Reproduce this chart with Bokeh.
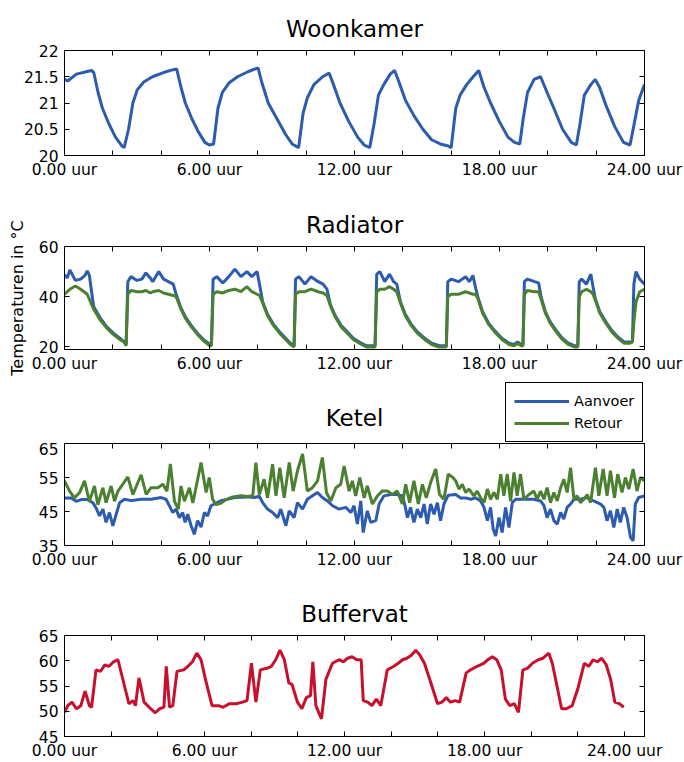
from bokeh.plotting import figure
from bokeh.models import Range1d, FixedTicker, LinearAxis, Legend, LegendItem, Label
from bokeh.layouts import column
from bokeh.embed import file_html
from bokeh.resources import INLINE

FONT = "DejaVu Sans"
BLUE = "#2c5bb0"
GREEN = "#4b8030"
RED = "#c8102e"

# x axis (hours)
hour_ticks = [0, 6, 12, 18, 24]
hour_minor = [2, 4, 8, 10, 14, 16, 20, 22]
hour_labels = ["0.00 uur", "6.00 uur", "12.00 uur", "18.00 uur", "24.00 uur"]

# Woonkamer
woon_t = [0, 0.13, 0.49, 0.94, 1.12, 1.21, 1.39, 1.57, 1.84, 2.11,
          2.38, 2.47, 2.65, 2.83, 3.01, 3.28, 3.64, 4.10, 4.46, 4.64,
          4.82, 5.00, 5.27, 5.54, 5.81, 5.99, 6.17, 6.35, 6.53, 6.80,
          7.16, 7.61, 8.01, 8.16, 8.43, 8.79, 9.15, 9.42, 9.69, 9.87,
          10.05, 10.32, 10.68, 10.95, 11.13, 11.40, 11.76, 12.13, 12.40, 12.63,
          12.81, 12.99, 13.21, 13.48, 13.66, 13.84, 14.11, 14.47, 14.83, 15.19,
          15.55, 15.88, 16.00, 16.19, 16.37, 16.64, 16.91, 17.14, 17.36, 17.63,
          17.99, 18.35, 18.62, 18.84, 18.98, 19.16, 19.43, 19.70, 19.97, 20.25,
          20.61, 20.97, 21.18, 21.33, 21.51, 21.78, 21.96, 22.14, 22.41, 22.77,
          23.13, 23.40, 23.53, 23.76, 24.00]
woon_temp = [21.45, 21.42, 21.55, 21.6, 21.62, 21.58, 21.2, 20.9, 20.6, 20.35,
             20.18, 20.15, 20.5, 21.0, 21.25, 21.4, 21.5, 21.58, 21.63, 21.65,
             21.3, 21.0, 20.7, 20.45, 20.25, 20.2, 20.22, 20.9, 21.2, 21.38,
             21.5, 21.6, 21.67, 21.4, 21.0, 20.7, 20.4, 20.22, 20.15, 20.8,
             21.1, 21.35, 21.5, 21.57, 21.35, 21.0, 20.65, 20.35, 20.2, 20.15,
             20.6, 21.15, 21.35, 21.55, 21.62, 21.4, 21.05, 20.75, 20.5, 20.3,
             20.22, 20.18, 20.15, 20.9, 21.15, 21.35, 21.5, 21.62, 21.3, 21.0,
             20.65, 20.35, 20.25, 20.22, 20.7, 21.2, 21.45, 21.5, 21.2, 20.9,
             20.5, 20.25, 20.2, 20.6, 21.15, 21.35, 21.45, 21.3, 20.95, 20.55,
             20.25, 20.2, 20.5, 21.05, 21.35]
woon_yticks = [20, 20.5, 21, 21.5, 22]
woon_ylabels = ["20", "20.5", "21", "21.5", "22"]

# Radiator
rad_t = [0, 0.12, 0.22, 0.45, 0.67, 0.85, 0.94, 1.03, 1.12, 1.21, 1.48, 1.75, 2.02, 2.29, 2.47,
         2.55, 2.62, 2.75, 3.0, 3.2, 3.37, 3.55, 3.65, 3.9, 4.1, 4.3, 4.5, 4.62, 4.8, 5.0, 5.25, 5.5, 5.75, 6.02,
         6.08, 6.15, 6.3, 6.55, 6.8, 7.05, 7.3, 7.55, 7.75, 7.97, 8.07, 8.2, 8.4, 8.65, 8.9, 9.15, 9.35, 9.5,
         9.56, 9.7, 9.95, 10.2, 10.5, 10.7, 10.86, 11.0, 11.2, 11.45, 11.7, 11.95, 12.2, 12.5, 12.85,
         12.92, 13.05, 13.25, 13.45, 13.62, 13.75, 13.9, 14.1, 14.35, 14.6, 14.9, 15.2, 15.5, 15.8,
         15.86, 16.0, 16.3, 16.6, 16.75, 16.9, 17.0, 17.1, 17.3, 17.55, 17.8, 18.1, 18.4, 18.6, 18.75, 18.9, 18.97,
         19.03, 19.15, 19.45, 19.62, 19.72, 19.9, 20.1, 20.35, 20.6, 20.85, 21.1, 21.24,
         21.3, 21.4, 21.6, 21.78, 21.87, 21.97, 22.15, 22.4, 22.65, 22.9, 23.15, 23.4, 23.5,
         23.56, 23.65, 23.8, 24.0]
rad_aanvoer = [48.8, 47.5, 50.7, 46.5, 47, 48.5, 50.3, 48.5, 42, 36, 31.5, 28, 25.5, 23.5, 22,
               21, 46, 48, 46.5, 47, 49.5, 47.5, 46, 50, 47, 46, 45, 41, 36, 32, 28.5, 25.5, 23, 21,
               21, 47, 48, 45.5, 48, 51, 48, 50, 48, 50, 45, 38, 33, 29, 26, 23.5, 21.5, 20.5,
               47, 48, 45, 48, 46, 45, 43, 37, 32.5, 28.5, 26, 23.5, 22, 20.5, 20.5,
               49, 50, 46, 49, 46, 45, 38, 33, 29, 26, 23.5, 21.5, 20.5, 20.5,
               46, 47, 46, 48, 46, 48.5, 44, 40, 34, 29.5, 26.5, 23.5, 21.5, 21, 22, 21, 21,
               46, 47, 46, 45.5, 40, 34, 30, 26.5, 23.5, 21.5, 20.5, 20.5,
               46, 47, 45, 49, 44, 39, 34, 30, 26.5, 24, 22, 22, 22,
               45, 50, 47, 45]
rad_retour = [41, 42, 43, 44.3, 43, 41.7, 41, 39, 37, 35, 30.7, 27.5, 25, 23, 22,
              20.5, 41, 42.5, 42, 42, 42.5, 41.5, 42, 42.5, 41.5, 41, 40.5, 40, 35.5, 31.5, 28, 25, 22.5, 20.5,
              20.5, 41, 42, 41.5, 42.5, 43, 42, 44, 42, 41, 40.5, 37.5, 32.5, 28.5, 25.5, 23, 21, 20,
              41, 42, 42, 43, 42, 41.5, 40.5, 36.5, 32, 28, 25.5, 23, 21.5, 20, 20,
              42, 43, 43, 44, 43, 42, 37.5, 32.5, 28.5, 25.5, 23, 21, 20, 20,
              40, 41, 41, 42, 41.5, 41, 41, 39.5, 33.5, 29, 26, 23, 21, 20.5, 21.5, 20.5, 20.5,
              41, 42.5, 42, 42, 39, 33.5, 29.5, 26, 23, 21, 20, 20,
              40, 42, 43, 42, 41, 38.5, 33.5, 29.5, 26, 23.5, 21.5, 21.5, 22,
              30, 38, 42, 43]
rad_yticks = [20, 40, 60]
rad_ylabels = ["20", "40", "60"]

# Ketel
ketel_aanvoer_t = [0, 0.28, 0.48, 0.69, 0.96, 1.17, 1.31, 1.45, 1.59, 1.72, 1.86, 2.0, 2.14, 2.28, 2.48,
                   2.76, 3.17, 3.58, 4.0, 4.2, 4.34, 4.48, 4.62, 4.75, 4.89, 4.99, 5.1, 5.24, 5.37, 5.51,
                   5.65, 5.79, 5.92, 6.06, 6.2, 6.48, 6.75, 7.03, 7.58, 7.85,
                   8.06, 8.2, 8.4, 8.61, 8.82, 8.95, 9.16, 9.30, 9.50, 9.64, 9.85, 10.05, 10.26, 10.47,
                   10.67, 10.88, 11.09, 11.36, 11.64, 11.85, 11.98, 12.12, 12.26, 12.36, 12.53, 12.67,
                   12.88, 13.02, 13.22, 13.50, 13.77, 13.98, 14.09, 14.19, 14.32, 14.46, 14.60, 14.74,
                   14.88, 15.01, 15.15, 15.29, 15.43, 15.56, 15.70, 15.88,
                   16.19, 16.39, 16.60, 16.81, 17.01, 17.22, 17.36, 17.50, 17.63, 17.74, 17.84, 17.98,
                   18.11, 18.25, 18.39, 18.53, 18.67, 18.87, 19.15, 19.42, 19.70, 19.84, 19.97, 20.11,
                   20.25, 20.39, 20.53, 20.66, 20.80, 20.94, 21.08, 21.35, 21.63, 21.90, 22.18, 22.32,
                   22.45, 22.59, 22.73, 22.87, 23.00, 23.14, 23.28, 23.42, 23.53, 23.62, 23.76, 24.0]
ketel_aanvoer = [49, 49, 48, 48.5, 48.5, 47.6, 46, 43.7, 45.7, 41.8, 44.7, 40.8, 44.2, 47.6, 48.6,
                 48.2, 48.6, 48.6, 49.1, 48.6, 46.7, 44.7, 45.7, 43.2, 44.7, 41.8, 44.2, 40.8, 38.3, 42.3,
                 40.4, 44.7, 43.7, 46.7, 47.2, 48.2, 48.6, 49.1, 49.3, 49.1,
                 49.5, 47.6, 45.7, 44.7, 43.2, 45.7, 40.8, 45.2, 43.2, 47.6, 45.7, 48.6, 49.6, 50.6,
                 49.1, 48.1, 46.7, 45.7, 46.2, 44.7, 46.7, 41.3, 48.1, 38.8, 45.2, 41.8,
                 42.3, 47.2, 49.6, 50, 50, 49.6, 46.7, 43.2, 46.2, 41.8, 45.7, 43.2,
                 47.2, 41.3, 47.2, 44.2, 47.6, 42.3, 47.2, 49.8,
                 50, 49, 49, 48.6, 49, 48.1, 46.2, 42.3, 46.2, 39.8, 37.8, 43.2,
                 38.8, 46.2, 40.3, 47.6, 48.6, 48.6, 48.6, 48.6, 48.1, 46.7, 43.2, 45.7,
                 42.3, 41.3, 44.7, 42.8, 46.2, 47.2, 48.6, 48.6, 49.1, 48.1, 47.2, 46.2,
                 42.3, 45.2, 40.3, 45.7, 41.8, 46.2, 43.2, 37.4, 36.4, 47.2, 49.1, 49.6]
ketel_retour_t = [0, 0.21, 0.41, 0.62, 0.83, 1.03, 1.24, 1.38, 1.59, 1.72, 1.93, 2.07, 2.21, 2.41, 2.62,
                  2.83, 3.17, 3.38, 3.58, 3.86, 4.07, 4.24, 4.38, 4.55, 4.71, 4.82, 4.96, 5.17, 5.31, 5.44,
                  5.65, 5.86, 5.99, 6.13, 6.27, 6.48, 6.69, 6.96, 7.30, 7.58, 7.79, 7.92,
                  8.06, 8.26, 8.40, 8.61, 8.75, 8.91, 9.09, 9.30, 9.46, 9.64, 9.85, 10.05, 10.26, 10.47,
                  10.67, 10.84, 11.02, 11.23, 11.43, 11.57, 11.78, 11.91, 12.05, 12.22, 12.40, 12.53,
                  12.74, 12.95, 13.15, 13.36, 13.57, 13.77, 13.98, 14.12, 14.28, 14.46, 14.64, 14.81,
                  14.97, 15.15, 15.36, 15.52, 15.70, 15.88, 16.07,
                  16.19, 16.32, 16.46, 16.60, 16.74, 16.94, 17.08, 17.22, 17.36, 17.50, 17.63, 17.77,
                  17.91, 18.05, 18.18, 18.32, 18.46, 18.60, 18.73, 18.87, 19.01, 19.22, 19.42, 19.56,
                  19.70, 19.84, 19.97, 20.11, 20.25, 20.39, 20.53, 20.66, 20.80, 20.94, 21.08, 21.21,
                  21.35, 21.49, 21.63, 21.77, 21.97, 22.11, 22.29, 22.45, 22.59, 22.76, 22.89, 23.07,
                  23.21, 23.35, 23.53, 23.69, 23.83, 24.0]
ketel_retour = [54, 51, 49, 50.5, 54, 48, 52.5, 47, 52, 47.6, 52.5, 48, 51, 53, 55.2,
                50, 55.8, 50, 52, 52, 53, 51, 59, 48, 45.7, 52.5, 48, 52, 47.5, 52,
                59.4, 50.6, 55, 48.6, 47, 47.5, 48.5, 49.3, 49.6, 49.4, 49.6, 59.4,
                50, 54.5, 49, 58.9, 49.6, 57.9, 49, 59.4, 51, 57, 61.9, 51, 52, 54,
                60.9, 50.6, 48.1, 52, 53, 58.4, 51, 54, 49.6, 55, 49, 52.5,
                47.2, 49.6, 51, 51, 50, 51, 47.2, 53, 47.6, 54, 47.2, 53,
                49, 53.5, 57.5, 50, 48.6, 56, 55,
                54, 51.6, 53, 50.6, 51.6, 49.6, 51, 49, 47.6, 51.6, 48.6, 50.6,
                48.6, 56, 49.6, 56, 48.1, 56.5, 49.6, 56, 48.6, 50, 51, 48.6,
                51, 48.6, 52, 47.6, 50.6, 48.1, 52, 54.5, 50.6, 57.9, 48.6, 49.6,
                47.6, 48.6, 50, 47.6, 57.9, 49.6, 57.5, 49.6, 57, 49, 56, 50.6,
                55, 51.6, 57.5, 51, 55, 54]
ketel_yticks = [35, 45, 55, 65]
ketel_ylabels = ["35", "45", "55", "65"]
ketel_series = ["Aanvoer", "Retour"]

# Buffervat
buf_t = [0, 0.14, 0.32, 0.51, 0.70, 0.88, 1.07, 1.16, 1.35, 1.54,
         1.73, 1.91, 2.10, 2.29, 2.57, 2.76, 2.94, 3.04, 3.19, 3.41,
         3.69, 3.89, 4.08, 4.26, 4.36, 4.50, 4.64, 4.82, 5.11, 5.29,
         5.48, 5.67, 5.85, 6.04, 6.32, 6.60, 6.79, 7.07, 7.35, 7.63,
         7.82, 8.01, 8.20, 8.39, 8.67, 8.86, 9.05, 9.23, 9.42, 9.61,
         9.75, 9.98, 10.17, 10.36, 10.54, 10.64, 10.77, 11.01, 11.20, 11.48,
         11.76, 11.95, 12.13, 12.32, 12.52, 12.71, 12.80, 12.99, 13.17, 13.36,
         13.55, 13.83, 14.11, 14.30, 14.48, 14.67, 14.86, 15.05, 15.23, 15.42,
         15.70, 15.98, 16.17, 16.36, 16.54, 16.74, 16.93, 17.21, 17.40, 17.68,
         17.96, 18.14, 18.33, 18.52, 18.71, 18.89, 19.08, 19.27, 19.45, 19.64,
         19.83, 20.05, 20.3, 20.5, 20.75, 20.9, 21.1, 21.3, 21.5, 21.75,
         21.99, 22.27, 22.46, 22.65, 22.83, 23.02, 23.21, 23.40, 23.58, 23.77,
         23.96]
buf_temp = [49.8, 51.1, 51.8, 50.5, 51.1, 54, 51.1, 50.8, 58.2, 57.9,
            59.2, 58.9, 59.8, 60.2, 55, 51.5, 52.1, 51.1, 56.6, 51.8,
            50.5, 49.7, 50.5, 50.8, 58.9, 50.8, 51.1, 57.9, 58.2, 58.9,
            59.8, 61.5, 60.2, 56.3, 51.1, 51.1, 50.8, 51.5, 51.5, 51.8,
            52.1, 59.5, 51.8, 58.2, 58.5, 58.9, 60.2, 62.1, 60.2, 55.6,
            55.3, 51.8, 50.5, 52.7, 53.1, 59.8, 51.1, 48.5, 56.3, 59.5,
            60.2, 59.8, 60.5, 60.8, 60.2, 60.2, 52.1, 51.8, 51.1, 52.4,
            51.1, 58.2, 58.9, 59.5, 60.2, 60.5, 61.1, 62.1, 61.1, 59.5,
            55.6, 51.5, 51.8, 52.7, 51.8, 52.1, 51.8, 57.6, 58.2, 58.9,
            59.5, 60.2, 60.8, 60.2, 58.2, 52.4, 51.1, 51.5, 49.8, 58.2,
            58.5, 59.5, 60.2, 60.5, 61.5, 59.5, 55, 50.5, 50.5, 51.1,
            54.4, 59.5, 58.9, 60.2, 59.8, 60.5, 59.2, 56.3, 51.8, 51.5,
            50.8]
buf_yticks = [45, 50, 55, 60, 65]
buf_ylabels = ["45", "50", "55", "60", "65"]


def style_title(t):
    t.align = "center"
    t.text_font = FONT
    t.text_font_size = "23px"
    t.text_font_style = "normal"
    t.text_color = "black"
    t.standoff = 18


def style(ax, labels=True):
    ax.axis_line_color = "black"
    ax.major_tick_line_color = "black"
    ax.minor_tick_line_color = "black"
    ax.major_tick_in = 5
    ax.major_tick_out = 0
    ax.minor_tick_in = 5
    ax.minor_tick_out = 0
    if labels:
        ax.major_label_text_font = FONT
        ax.major_label_text_font_size = "15.5px"
        ax.major_label_text_color = "black"
    else:
        ax.major_label_text_font_size = "0px"
        ax.major_label_text_color = None
        ax.major_label_standoff = 0


def make_panel(title, height, top, bottom, yrange, yticks, ylabels, xmax, ylabel=None):
    p = figure(width=684, height=height, x_range=Range1d(0, xmax),
               y_range=Range1d(*yrange), output_backend="svg", toolbar_location=None,
               min_border_left=64, min_border_right=40, min_border_top=top,
               min_border_bottom=bottom, x_axis_type=None, y_axis_type=None)
    if title:
        p.title.text = title
        style_title(p.title)
    p.outline_line_color = "black"
    p.outline_line_alpha = 1
    p.outline_line_width = 1
    p.background_fill_color = "white"
    p.border_fill_color = "white"

    xb = LinearAxis(ticker=FixedTicker(ticks=hour_ticks, minor_ticks=hour_minor),
                    major_label_overrides=dict(zip(hour_ticks, hour_labels)))
    style(xb)
    xb.major_label_standoff = 5
    p.add_layout(xb, "below")
    xa = LinearAxis(ticker=FixedTicker(ticks=hour_ticks, minor_ticks=hour_minor))
    style(xa, labels=False)
    p.add_layout(xa, "above")

    yl = LinearAxis(ticker=FixedTicker(ticks=yticks, minor_ticks=[]),
                    major_label_overrides=dict(zip(yticks, ylabels)))
    style(yl)
    yl.major_label_standoff = 6
    if ylabel:
        yl.axis_label = ylabel
        yl.axis_label_text_font = FONT
        yl.axis_label_text_font_size = "16px"
        yl.axis_label_text_font_style = "normal"
        yl.axis_label_text_color = "black"
        yl.axis_label_standoff = 9
    p.add_layout(yl, "left")
    yr = LinearAxis(ticker=FixedTicker(ticks=yticks, minor_ticks=[]))
    style(yr, labels=False)
    p.add_layout(yr, "right")
    return p


p1 = make_panel("Woonkamer", 190, 50, 35, (20, 22), woon_yticks, woon_ylabels, 24)
p1.line(woon_t, woon_temp, line_color=BLUE, line_width=3)

p2 = make_panel("Radiator", 188, 56, 29, (19, 60), rad_yticks, rad_ylabels, 24,
                ylabel="Temperaturen in °C")
p2.line(rad_t, rad_aanvoer, line_color=BLUE, line_width=3)
p2.line(rad_t, rad_retour, line_color=GREEN, line_width=3)

# header strip above the Ketel frame: panel title and legend
head = figure(width=684, height=64, x_range=Range1d(0, 24), y_range=Range1d(1000, 1001),
              output_backend="svg", toolbar_location=None, min_border_left=64,
              min_border_right=36, min_border_top=0, min_border_bottom=0,
              x_axis_type=None, y_axis_type=None)
head.outline_line_color = None
head.grid.visible = False
h_a = head.line(ketel_aanvoer_t, ketel_aanvoer, line_color=BLUE, line_width=3)
h_r = head.line(ketel_retour_t, ketel_retour, line_color=GREEN, line_width=3)
legend = Legend(items=[LegendItem(label=ketel_series[0], renderers=[h_a]),
                       LegendItem(label=ketel_series[1], renderers=[h_r])],
                location=(441, 0), orientation="vertical", margin=0,
                border_line_color="black", border_line_width=1, border_line_alpha=1,
                background_fill_color="white", background_fill_alpha=1,
                label_text_font=FONT, label_text_font_size="14.5px", label_text_color="black",
                glyph_width=55, glyph_height=20, label_height=20, padding=8, spacing=2,
                label_standoff=5)
head.add_layout(legend, "center")
head.add_layout(Label(x=290, y=25, x_units="screen", y_units="screen", text="Ketel",
                      text_font=FONT, text_font_size="23px", text_color="black",
                      text_align="center", text_baseline="middle"))

p3 = make_panel(None, 138, 1, 35, (35, 65), ketel_yticks, ketel_ylabels, 24)
p3.line(ketel_aanvoer_t, ketel_aanvoer, line_color=BLUE, line_width=3)
p3.line(ketel_retour_t, ketel_retour, line_color=GREEN, line_width=3)

p4 = make_panel("Buffervat", 182, 55, 24, (45, 65), buf_yticks, buf_ylabels, 24.85)
p4.line(buf_t, buf_temp, line_color=RED, line_width=3)

layout = column(p1, p2, head, p3, p4, spacing=0)
open("out.html", "w").write(file_html(layout, INLINE))
